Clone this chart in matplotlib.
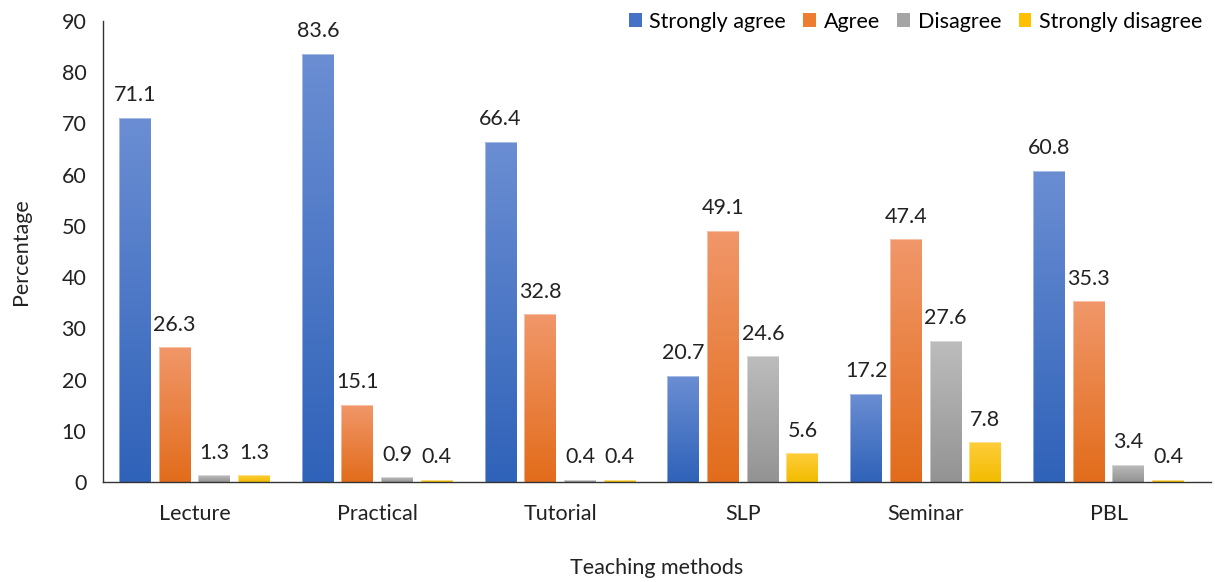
import numpy as np
import matplotlib
matplotlib.use("Agg")
import matplotlib.pyplot as plt
from matplotlib.colors import LinearSegmentedColormap
from matplotlib.patches import Patch

plt.rcParams['font.family'] = ['Lato', 'DejaVu Sans']

methods = ["Lecture", "Practical", "Tutorial", "SLP", "Seminar", "PBL"]
series_names = ["Strongly agree", "Agree", "Disagree", "Strongly disagree"]
strongly_agree = [71.1, 83.6, 66.4, 20.7, 17.2, 60.8]
agree = [26.3, 15.1, 32.8, 49.1, 47.4, 35.3]
disagree = [1.3, 0.9, 0.4, 24.6, 27.6, 3.4]
strongly_disagree = [1.3, 0.4, 0.4, 5.6, 7.8, 0.4]
y_ticks = [0, 10, 20, 30, 40, 50, 60, 70, 80, 90]

series = [strongly_agree, agree, disagree, strongly_disagree]
# (top colour, bottom colour, legend colour)
palette = [
    ("#6b8ed3", "#2f62b9", "#4472c4"),
    ("#f1976a", "#e26c1b", "#ed7d31"),
    ("#bdbdbd", "#939393", "#a5a5a5"),
    ("#ffcd3a", "#f2bc00", "#ffc000"),
]
FS = 15.5

fig = plt.figure(figsize=(12.15, 5.82), dpi=100)
ax = fig.add_axes([0.0848, 0.1718, 0.9119, 0.7921])

x = np.arange(len(methods))
step = 0.217
width = 0.175
offsets = (np.arange(4) - 1.5) * step

for vals, off, (top, bottom, _) in zip(series, offsets, palette):
    cmap = LinearSegmentedColormap.from_list("grad", [bottom, top])
    bars = ax.bar(x + off, vals, width, facecolor="none", edgecolor="none", zorder=2)
    grad = np.linspace(0, 1, 256).reshape(-1, 1)
    for b, v in zip(bars, vals):
        bx, bw, bh = b.get_x(), b.get_width(), b.get_height()
        im = ax.imshow(grad, cmap=cmap, origin="lower", aspect="auto",
                       extent=(bx, bx + bw, 0, bh), zorder=2, interpolation="bilinear")
        im.set_clip_path(b)
        ax.bar(bx + bw / 2, bh, bw, facecolor="none", edgecolor="#ffffff",
               linewidth=0.6, alpha=0.5, zorder=3)
        ax.annotate(f"{v:.1f}", (bx + bw / 2, bh), xytext=(0, 9),
                    textcoords="offset points", ha="center", va="bottom",
                    fontsize=FS, color="#222222")

ax.set_xlim(-0.5, 5.56)
ax.set_ylim(0, 90)
ax.set_yticks(y_ticks)
ax.set_xticks(x)
ax.set_xticklabels(methods)
ax.tick_params(axis="both", length=0, labelsize=FS, colors="#222222")
ax.tick_params(axis="x", pad=16)
ax.tick_params(axis="y", pad=12)
for side in ("top", "right"):
    ax.spines[side].set_visible(False)
for side in ("left", "bottom"):
    ax.spines[side].set_color("#333333")
    ax.spines[side].set_linewidth(1.0)

ax.set_ylabel("Percentage", fontsize=FS, color="#222222", labelpad=22)
ax.set_xlabel("Teaching methods", fontsize=FS, color="#222222", labelpad=24)

handles = [Patch(facecolor=c[2], edgecolor="none") for c in palette]
ax.legend(handles, series_names, loc="upper right", bbox_to_anchor=(1.0, 1.039),
          ncol=4, frameon=False, fontsize=FS, handlelength=0.6, handleheight=0.6,
          handletextpad=0.35, columnspacing=0.8, borderaxespad=0)

fig.savefig("out.png", dpi=100)
